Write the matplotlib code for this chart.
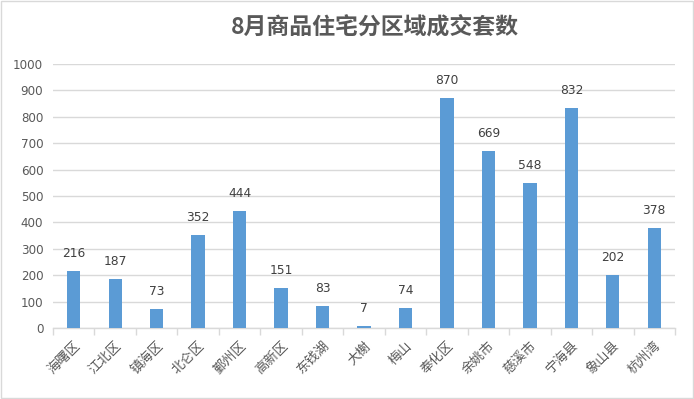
import matplotlib.pyplot as plt
from matplotlib.patches import Rectangle

plt.rcParams['font.family'] = ['Noto Sans CJK SC', 'DejaVu Sans']

districts = ['海曙区', '江北区', '镇海区', '北仑区', '鄞州区', '高新区', '东钱湖', '大榭',
             '梅山', '奉化区', '余姚市', '慈溪市', '宁海县', '象山县', '杭州湾']
units = [216, 187, 73, 352, 444, 151, 83, 7, 74, 870, 669, 548, 832, 202, 378]
yticks = list(range(0, 1001, 100))

text_col = '#595959'
grid_col = '#D9D9D9'

fig = plt.figure(figsize=(6.94, 3.99), dpi=100)
ax = fig.add_axes([53/694, 1 - 328/399, 622/694, 264/399])

x = list(range(len(districts)))
ax.bar(x, units, width=0.32, color='#5B9BD5', zorder=3)
for i, v in enumerate(units):
    ax.annotate(str(v), (i, v), xytext=(0, 8), textcoords='offset points',
                ha='center', va='bottom', fontsize=8.8, color='#404040', family='DejaVu Sans')

ax.set_xlim(-0.5, len(districts) - 0.5)
ax.set_ylim(0, 1000)
ax.set_yticks(yticks)
ax.set_yticklabels([str(t) for t in yticks], family='DejaVu Sans', fontsize=8.6, color=text_col)
ax.yaxis.grid(True, color=grid_col, linewidth=1, zorder=0)
ax.tick_params(axis='y', length=0, pad=7)

ax.set_xticks([i - 0.5 for i in range(len(districts) + 1)], minor=False)
ax.set_xticklabels([])
ax.set_xticks(x, minor=True)
ax.set_xticklabels(districts, minor=True, rotation=45, ha='right', rotation_mode='anchor',
                   fontsize=9.5, color=text_col)
ax.tick_params(axis='x', which='major', length=5, color=grid_col, width=1)
ax.tick_params(axis='x', which='minor', length=0, pad=8)

for s in ['top', 'right', 'left']:
    ax.spines[s].set_visible(False)
ax.spines['bottom'].set_color(grid_col)
ax.spines['bottom'].set_linewidth(1)

fig.text(375/694, 1 - 27/399, '8月商品住宅分区域成交套数', ha='center', va='center',
         fontsize=16.5, fontweight='bold', color=text_col)

fig.patches.append(Rectangle((1/694, 1/399), 692/694, 397/399, transform=fig.transFigure,
                             fill=False, edgecolor=grid_col, linewidth=1))

fig.savefig('out.png', dpi=100)
